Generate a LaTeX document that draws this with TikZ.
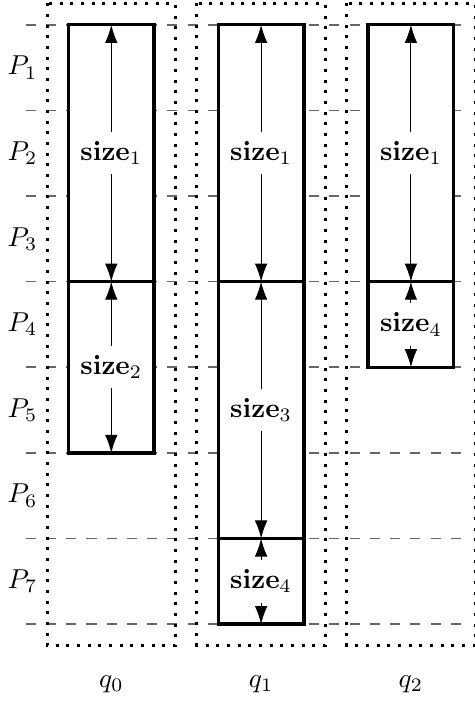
\documentclass[tikz,border=0pt]{standalone}
\usetikzlibrary{arrows.meta}
\begin{document}
\begin{tikzpicture}[x=1.1cm,y=1.1cm,>={Latex[length=6.6pt,width=4.6pt]},
    slot/.style={draw=black!60,semithick,dash pattern=on 3.7pt off 3.7pt},
    queue/.style={line width=1.1pt,dash pattern=on 1.1pt off 2.8pt},
    blk/.style={draw,very thick,fill=white},
    lbl/.style={fill=white,inner xsep=1pt}]
    \useasboundingbox (-1.3,0.29) rectangle (4.24,-7.91);
    % time slots
    \foreach \i in {0,...,7}
        \draw[slot] (-1,-\i) -- (4.1,-\i);
    \foreach \i in {1,...,7}
        \node[left] (p\i) at (-0.75,-\i+0.5) {$P_{\i}$};
    % queues
    \draw[queue] (-0.75,0.25) rectangle (0.75,-7.25);
    \draw[queue] (1,0.25) rectangle (2.5,-7.25);
    \draw[queue] (2.75,0.25) rectangle (4.25,-7.25);
    \node (q0) at (0,-7.7) {$q_0$};
    \node (q1) at (1.75,-7.7) {$q_1$};
    \node (q2) at (3.5,-7.7) {$q_2$};
    % q0
    \coordinate (a0) at (0,0);
    \coordinate (a3) at (0,-3);
    \coordinate (a5) at (0,-5);
    \draw[blk] (-0.5,0) rectangle (0.5,-3);
    \draw[blk] (-0.5,-3) rectangle (0.5,-5);
    \node[lbl] (s01) at (0,-1.5) {$\mathbf{size}_1$};
    \node[lbl] (s02) at (0,-4) {$\mathbf{size}_2$};
    \draw[->] (s01) -- (a0);
    \draw[->] (s01) -- (a3);
    \draw[->] (s02) -- (a3);
    \draw[->] (s02) -- (a5);
    % q1
    \coordinate (b0) at (1.75,0);
    \coordinate (b3) at (1.75,-3);
    \coordinate (b6) at (1.75,-6);
    \coordinate (b7) at (1.75,-7);
    \draw[blk] (1.25,0) rectangle (2.25,-3);
    \draw[blk] (1.25,-3) rectangle (2.25,-6);
    \draw[blk] (1.25,-6) rectangle (2.25,-7);
    \node[lbl] (s11) at (1.75,-1.5) {$\mathbf{size}_1$};
    \node[lbl] (s13) at (1.75,-4.5) {$\mathbf{size}_3$};
    \node[lbl] (s14) at (1.75,-6.5) {$\mathbf{size}_4$};
    \draw[->] (s11) -- (b0);
    \draw[->] (s11) -- (b3);
    \draw[->] (s13) -- (b3);
    \draw[->] (s13) -- (b6);
    \draw[->] (s14) -- (b6);
    \draw[->] (s14) -- (b7);
    % q2
    \coordinate (c0) at (3.5,0);
    \coordinate (c3) at (3.5,-3);
    \coordinate (c4) at (3.5,-4);
    \draw[blk] (3,0) rectangle (4,-3);
    \draw[blk] (3,-3) rectangle (4,-4);
    \node[lbl] (s21) at (3.5,-1.5) {$\mathbf{size}_1$};
    \node[lbl] (s24) at (3.5,-3.5) {$\mathbf{size}_4$};
    \draw[->] (s21) -- (c0);
    \draw[->] (s21) -- (c3);
    \draw[->] (s24) -- (c3);
    \draw[->] (s24) -- (c4);
\end{tikzpicture}
\end{document}
